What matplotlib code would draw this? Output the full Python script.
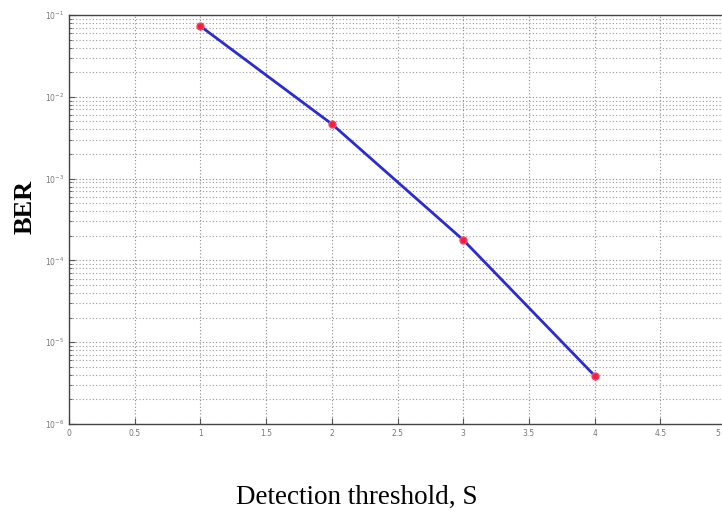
import matplotlib
matplotlib.use("Agg")
import matplotlib.pyplot as plt
from matplotlib.ticker import LogLocator, FixedLocator, NullFormatter

# BER versus detection threshold
threshold = [1, 2, 3, 4]
ber = [7.3e-2, 4.65e-3, 1.78e-4, 3.9e-6]

x_ticks = [0, 0.5, 1, 1.5, 2, 2.5, 3, 3.5, 4, 4.5, 5]
x_tick_labels = ["0", "0.5", "1", "1.5", "2", "2.5", "3", "3.5", "4", "4.5", "5"]
y_decades = [1e-6, 1e-5, 1e-4, 1e-3, 1e-2, 1e-1]

W, H = 722, 512
fig = plt.figure(figsize=(W / 100, H / 100), dpi=100)
# axes box runs slightly past the right edge of the figure
ax = fig.add_axes([69 / W, 1 - 424 / H, 657 / W, 409 / H])

ax.semilogy(threshold, ber, color="#2b2bd6", linewidth=2.0, zorder=3)
ax.plot(threshold, ber, linestyle="none", marker="o", markersize=5,
        color="#ee2040", markeredgecolor="#ff4060", zorder=4)

ax.set_xlim(0, 5)
ax.set_ylim(1e-6, 1e-1)

ax.xaxis.set_major_locator(FixedLocator(x_ticks))
# last label would fall past the figure edge, so it is drawn separately below
ax.set_xticklabels(x_tick_labels[:-1] + [""])
ax.yaxis.set_major_locator(FixedLocator(y_decades))
ax.yaxis.set_minor_locator(LogLocator(base=10, subs=range(2, 10)))
ax.yaxis.set_minor_formatter(NullFormatter())

ax.grid(True, which="major", axis="both", linestyle=(0, (1, 2)),
        color="#8a8a8a", linewidth=0.8)
ax.grid(True, which="minor", axis="y", linestyle=(0, (1, 2)),
        color="#9a9a9a", linewidth=0.8)

ax.tick_params(which="both", direction="in", labelsize=5.5,
               labelcolor="#777777", color="#555555")
ax.tick_params(which="major", length=4)
ax.tick_params(which="minor", length=2)
ax.annotate(x_tick_labels[-1], xy=(x_ticks[-1], 0),
            xycoords=("data", "axes fraction"), xytext=(-4.5, -3.5),
            textcoords="offset points", ha="right", va="top",
            fontsize=5.5, color="#777777")
for spine in ax.spines.values():
    spine.set_color("#444444")
    spine.set_linewidth(1.0)

# axis titles placed in figure pixels, since the axes is wider than the figure
fig.text(357 / W, 1 - 497 / H, "Detection threshold, S",
         family="Liberation Serif", fontsize=19.5, ha="center", va="center")
fig.text(25 / W, 1 - 207 / H, "BER", family="Liberation Serif",
         fontweight="bold", fontsize=19, rotation=90, ha="center", va="center")

fig.savefig("out.png", dpi=100)
